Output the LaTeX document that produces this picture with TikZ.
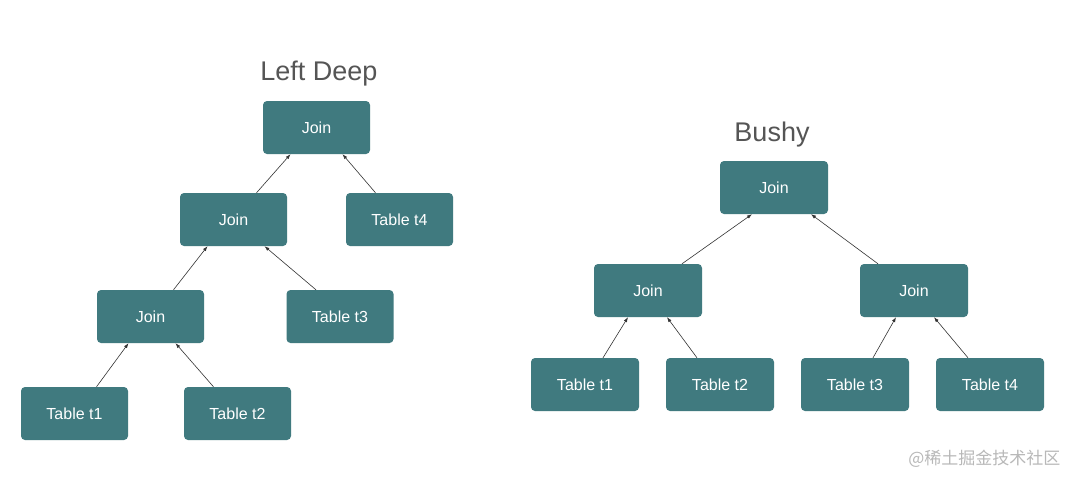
\documentclass[tikz,border=0pt]{standalone}
\usepackage{fontspec}
\setmainfont{Liberation Sans}
\newfontfamily\cjk{Noto Sans CJK SC}
\usetikzlibrary{calc,arrows.meta}
\definecolor{teal1}{HTML}{407A7F}
\definecolor{titlegray}{HTML}{555555}
\definecolor{wmgray}{HTML}{B8B8B8}
\begin{document}
\begin{tikzpicture}[x=1pt,y=-1pt,
  box/.style={fill=teal1,rounded corners=4pt,minimum width=107pt,minimum height=53pt,inner sep=0pt,text=white,font=\fontsize{16}{18}\selectfont},
  conn/.style={draw=black!80,line width=0.6pt,-{Latex[length=5pt,width=3.5pt]}},
  ttl/.style={text=titlegray,font=\fontsize{27}{30}\selectfont}]
\useasboundingbox (0,0) rectangle (1080,485);
\fill[white] (0,0) rectangle (1080,485);
% Left Deep
\node[ttl] (tl) at (319,74) {Left Deep};
\node[box] (lj1) at (316.5,127.5) {Join};
\node[box] (lj2) at (233.5,219.5) {Join};
\node[box] (lt4) at (399.5,219.5) {Table t4};
\node[box] (lj3) at (150.5,316.5) {Join};
\node[box] (lt3) at (340,316.5) {Table t3};
\node[box] (lt1) at (74.5,413.5) {Table t1};
\node[box] (lt2) at (237.5,413.5) {Table t2};
\draw[conn] ([xshift=22pt]lt1.north) -- ([xshift=-22pt]lj3.south);
\draw[conn] ([xshift=-24pt]lt2.north) -- ([xshift=25pt]lj3.south);
\draw[conn] ([xshift=23pt]lj3.north) -- ([xshift=-26pt]lj2.south);
\draw[conn] ([xshift=-24pt]lt3.north) -- ([xshift=31pt]lj2.south);
\draw[conn] ([xshift=23pt]lj2.north) -- ([xshift=-26pt]lj1.south);
\draw[conn] ([xshift=-24pt]lt4.north) -- ([xshift=26pt]lj1.south);
% Bushy
\node[ttl] (tb) at (772,135) {Bushy};
\node[box,minimum width=108pt] (bj1) at (774,187.5) {Join};
\node[box,minimum width=108pt] (bj2) at (648,290.5) {Join};
\node[box,minimum width=108pt] (bj3) at (914,290.5) {Join};
\node[box,minimum width=108pt] (bt1) at (585,384.5) {Table t1};
\node[box,minimum width=108pt] (bt2) at (720,384.5) {Table t2};
\node[box,minimum width=108pt] (bt3) at (855,384.5) {Table t3};
\node[box,minimum width=108pt] (bt4) at (990,384.5) {Table t4};
\draw[conn] ([xshift=34pt]bj2.north) -- ([xshift=-22pt]bj1.south);
\draw[conn] ([xshift=-36pt]bj3.north) -- ([xshift=37pt]bj1.south);
\draw[conn] ([xshift=18pt]bt1.north) -- ([xshift=-20pt]bj2.south);
\draw[conn] ([xshift=-23pt]bt2.north) -- ([xshift=19pt]bj2.south);
\draw[conn] ([xshift=18pt]bt3.north) -- ([xshift=-18pt]bj3.south);
\draw[conn] ([xshift=-22pt]bt4.north) -- ([xshift=20pt]bj3.south);
% watermark
\node[text=wmgray,font=\cjk\fontsize{17}{19}\selectfont,anchor=east] (wm) at (1064,459) {@稀土掘金技术社区};
\end{tikzpicture}
\end{document}
